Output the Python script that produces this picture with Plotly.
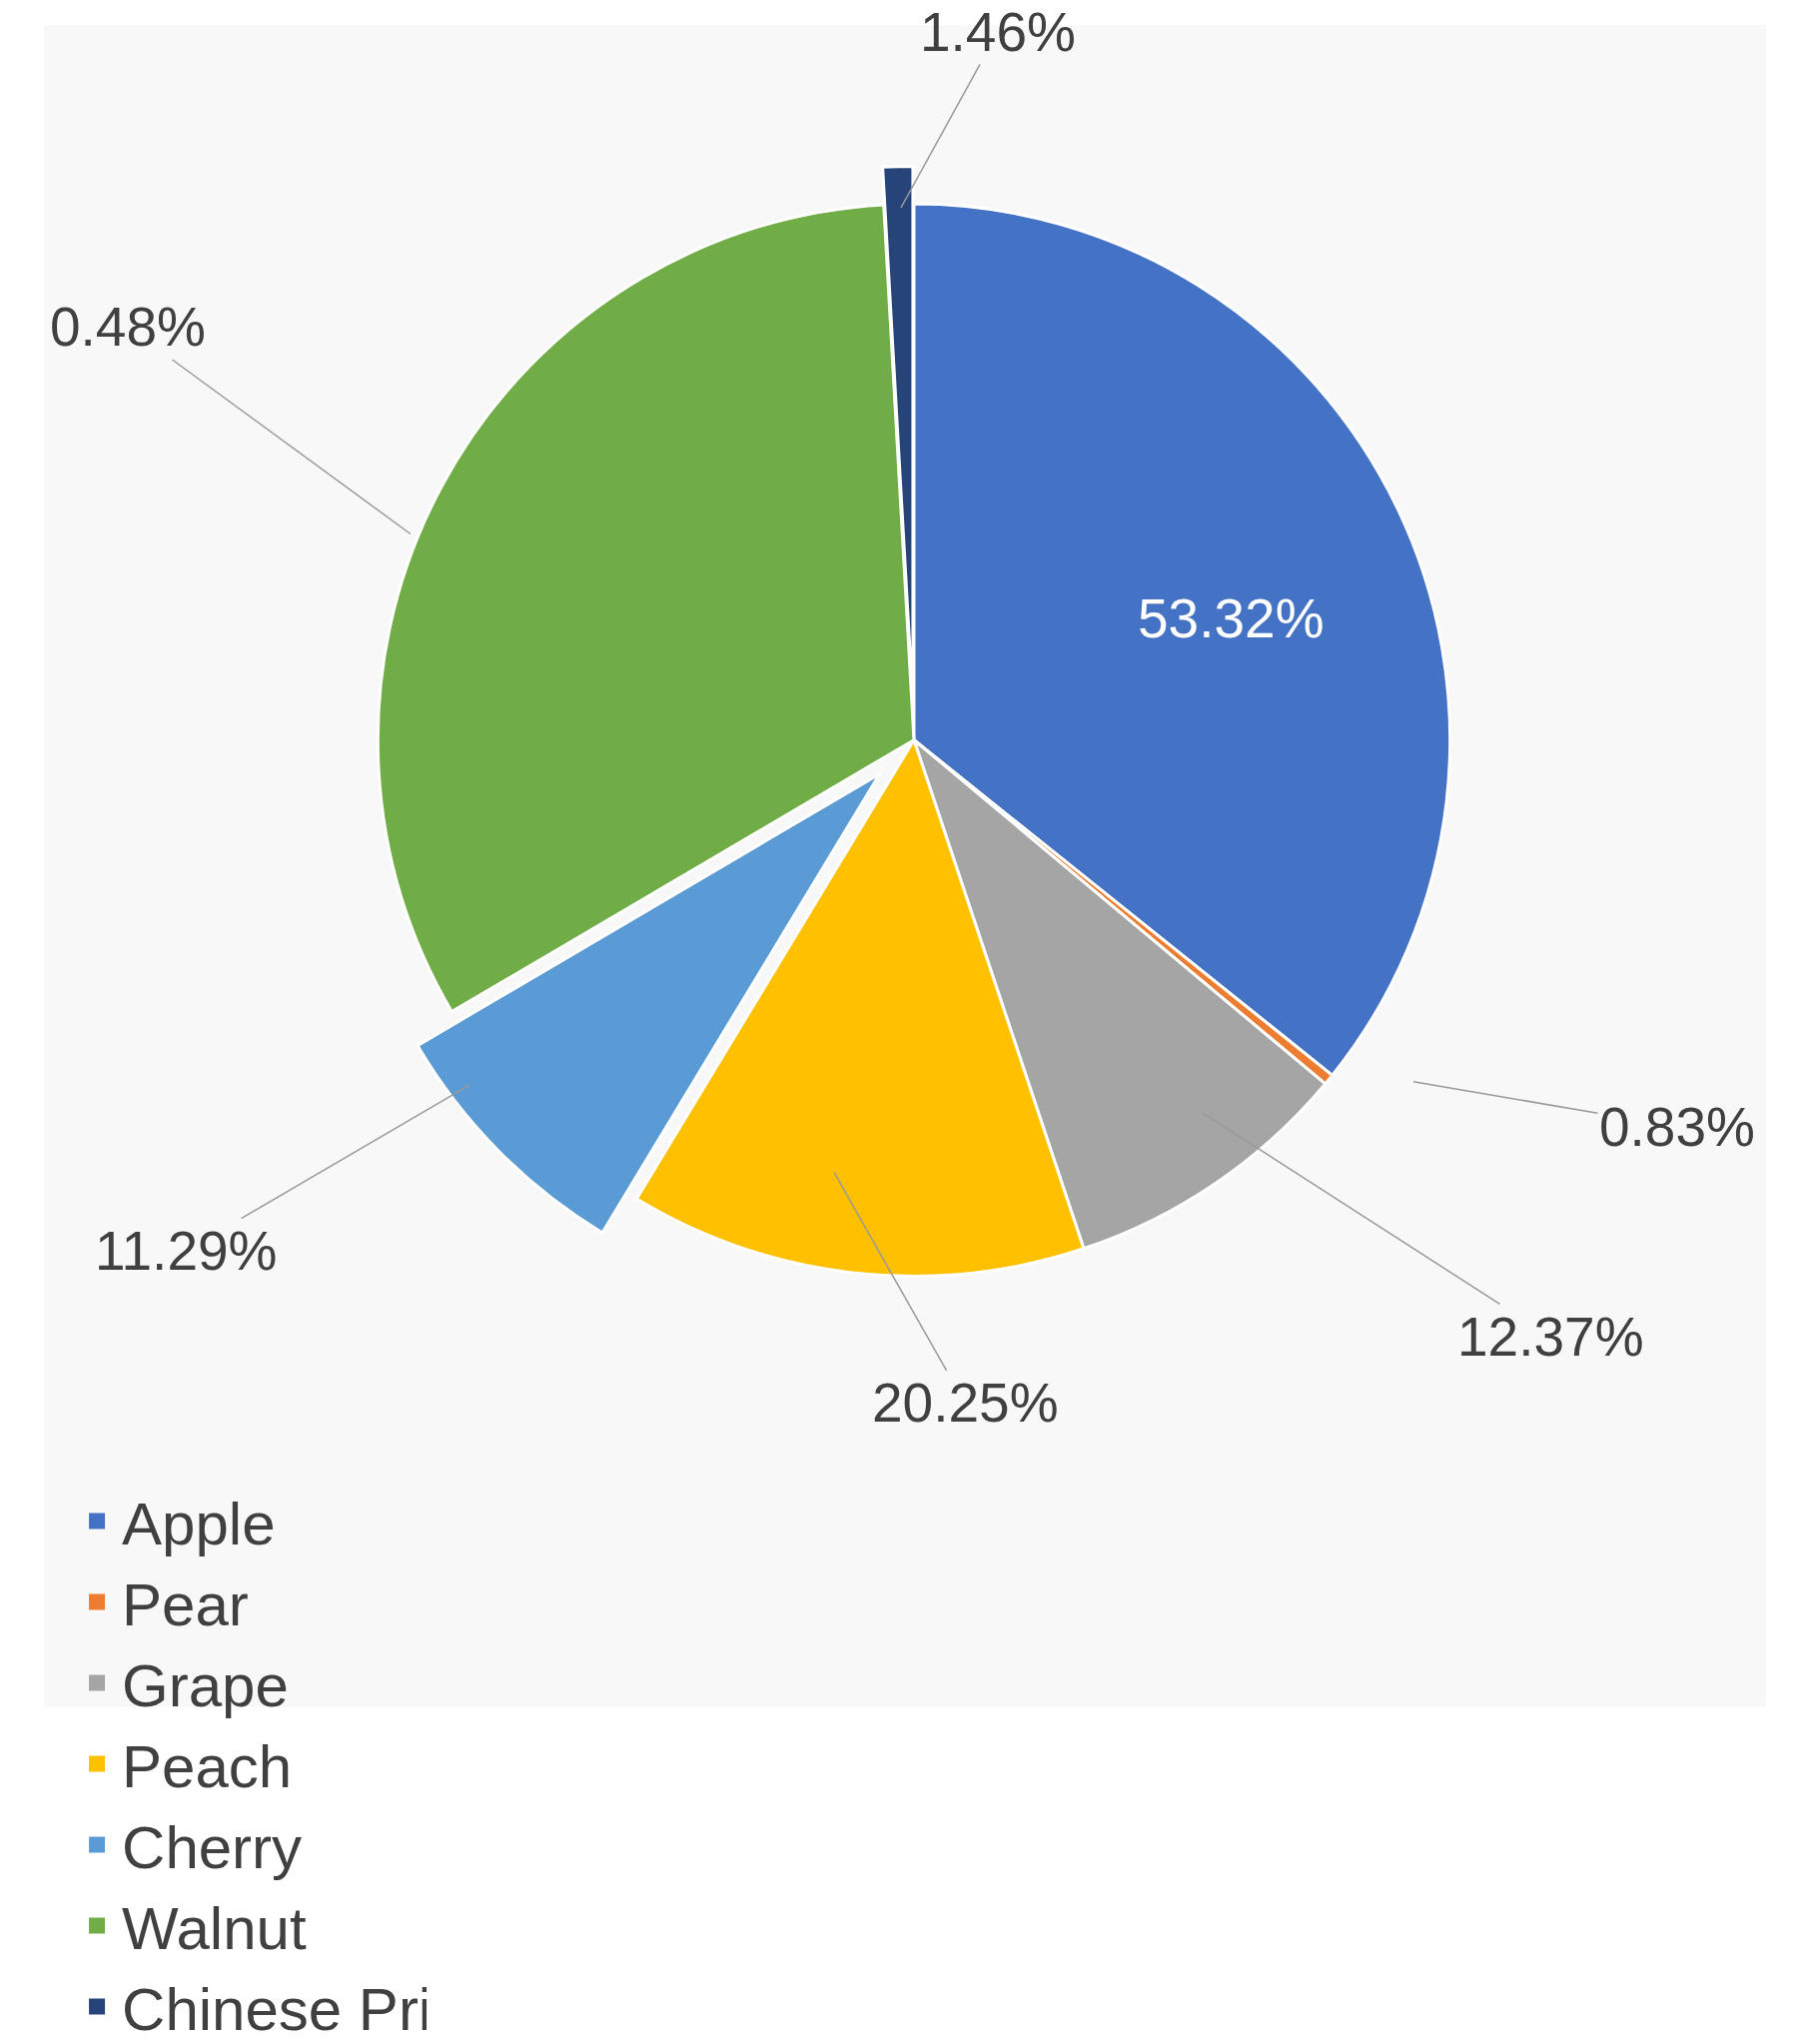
import plotly.graph_objects as go

categories = ["Apple", "Pear", "Grape", "Peach", "Cherry", "Walnut", "Chinese Prickly Ash"]
slice_values = [35.8, 0.33, 8.8, 13.8, 7.9, 32.6, 0.9]
label_texts = ["53.32%", "0.83%", "12.37%", "20.25%", "11.29%", "0.48%", "1.46%"]
colors = ["#4472C4", "#ED7D31", "#A5A5A5", "#FFC000", "#5B9BD5", "#70AD47", "#264478"]
pulls = [0, 0, 0, 0, 0.09, 0, 0.07]

W, H = 1796, 2046
fig = go.Figure(go.Pie(
    labels=categories, values=slice_values, sort=False, direction="clockwise", rotation=0,
    marker=dict(colors=colors, line=dict(color="white", width=3)),
    pull=pulls, textinfo="none", hoverinfo="label+percent", showlegend=False,
    domain=dict(x=[0.12, 0.89], y=[0.233, 0.914]),
))
for c, col in zip(categories, colors):
    fig.add_trace(go.Scatter(x=[None], y=[None], mode="markers", name=c,
                             marker=dict(symbol="square", size=40, color=col)))

tips = [None, (1407, 1280), (1196, 1317), (827, 1388), (462, 1284), (403, 627), (894, 238)]
texts = [(1320, 728), (1671, 1325), (1544, 1541), (958, 1619), (178, 1450), (120, 420), (991, 62)]
ann = []
for i, t in enumerate(label_texts):
    tx, ty = texts[i]
    if tips[i] is None:
        ann.append(dict(x=tx / W, y=1 - ty / H, xref="paper", yref="paper", text=t,
                        showarrow=False, font=dict(size=55, color="white", family="Liberation Sans")))
    else:
        px, py = tips[i]
        ann.append(dict(x=px / W, y=1 - py / H, xref="paper", yref="paper", text=t,
                        showarrow=True, arrowhead=0, arrowwidth=1.5, arrowcolor="#999999",
                        ax=tx - px, ay=ty - py, axref="pixel", ayref="pixel",
                        font=dict(size=55, color="#404040", family="Liberation Sans")))

fig.update_layout(
    width=W, height=H, margin=dict(l=0, r=0, t=0, b=0),
    paper_bgcolor="white", plot_bgcolor="rgba(0,0,0,0)",
    xaxis=dict(visible=False), yaxis=dict(visible=False),
    annotations=ann,
    shapes=[dict(type="rect", xref="paper", yref="paper", x0=0.02, x1=0.98, y0=0.01, y1=0.99,
                 fillcolor="#f8f8f8", line=dict(width=0), layer="below")],
    legend=dict(orientation="h", x=0.115, y=0.145, xanchor="left", yanchor="top",
                entrywidth=300, font=dict(size=60, color="#404040", family="Liberation Sans"),
                itemwidth=40, bgcolor="rgba(0,0,0,0)", tracegroupgap=40),
    showlegend=True,
)
fig.write_html("out.html")
